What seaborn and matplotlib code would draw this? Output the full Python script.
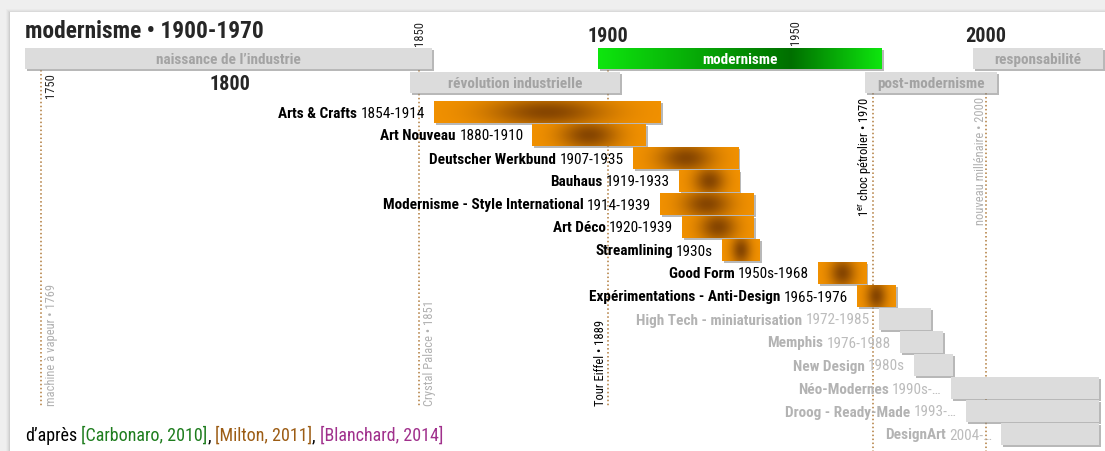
import numpy as np
import matplotlib
matplotlib.use("Agg")
import matplotlib.pyplot as plt
import matplotlib.patheffects as pe
from matplotlib.patches import Rectangle
from matplotlib import font_manager as fm
from matplotlib.colors import to_rgb
import seaborn as sns

# design movements, one row each (top to bottom)
names = ["Arts & Crafts", "Art Nouveau", "Deutscher Werkbund", "Bauhaus",
         "Modernisme - Style International", "Art Déco", "Streamlining", "Good Form",
         "Expérimentations - Anti-Design", "High Tech - miniaturisation", "Memphis",
         "New Design", "Néo-Modernes", "Droog - Ready-Made", "DesignArt"]
periods = ["1854-1914", "1880-1910", "1907-1935", "1919-1933", "1914-1939", "1920-1939",
           "1930s", "1950s-1968", "1965-1976", "1972-1985", "1976-1988", "1980s",
           "1990s-…", "1993-…", "2004-…"]
starts = [1854, 1880, 1906.5, 1918.8, 1913.8, 1919.6, 1930.2, 1955.6, 1965.9,
          1971.7, 1977.2, 1981.0, 1990.7, 1994.7, 2004.0]
ends = [1914.0, 1910.0, 1934.4, 1934.7, 1938.6, 1938.6, 1940.2, 1968.3, 1976.2,
        1985.4, 1988.6, 1991.3, 2030.0, 2030.0, 2030.0]
is_modern = [True] * 9 + [False] * 6

# periods in the header
band_labels = ["naissance de l’industrie", "révolution industrielle", "modernisme",
               "post-modernisme", "responsabilité"]
band_starts = [1745.8, 1847.6, 1897.4, 1968.0, 1996.6]
band_ends = [1853.4, 1903.2, 1972.5, 2002.9, 2031.0]
band_level = [0, 1, 0, 1, 0]

# events (dotted lines)
event_labels = ["machine à vapeur • 1769", "Crystal Palace • 1851", "Tour Eiffel • 1889",
                r"1$^{\mathrm{er}}$ choc pétrolier • 1970", "nouveau millénaire • 2000"]
event_x = [1750, 1850, 1900, 1970, 2000]

small_years = [1750, 1850, 1950]
big_years = [1800, 1900, 2000]

# ---------------------------------------------------------------- style
sns.set_style("white")
avail = {f.name for f in fm.fontManager.ttflist}
FONT = next((n for n in ["Liberation Sans Narrow", "Roboto Condensed", "Open Sans Condensed"]
             if n in avail), "Liberation Sans")
plt.rcParams["font.family"] = [FONT, "DejaVu Sans"]
plt.rcParams["mathtext.fontset"] = "custom"
plt.rcParams["mathtext.rm"] = FONT

W, H = 1105, 451
fig = plt.figure(figsize=(W / 100, H / 100), dpi=100, facecolor="#efefef")
ax = fig.add_axes([0, 0, 1, 1])
ax.patch.set_visible(False)
ax.set_axis_off()

# white card with soft shadow
for i, a in enumerate([0.05, 0.08, 0.12, 0.18]):
    fig.add_artist(Rectangle(((10 - 4 + i) / W, 0), 1, 1 - (12 - 3 + i) / H,
                             transform=fig.transFigure, color="#9a9a9a", alpha=a, lw=0, zorder=-3))
fig.add_artist(Rectangle((10 / W, 0), 1, 1 - 12 / H, transform=fig.transFigure,
                         color="white", lw=0, zorder=-2))

PX = 3.78          # pixels per year
X0 = 1750 - 41 / PX
ax.set_xlim(X0, X0 + W / PX)
ROW0, ROWH = 112, 23.0


def py(px):
    return (px - ROW0) / ROWH


ax.set_ylim(py(H), py(0))

shadow = [pe.withSimplePatchShadow(offset=(1.5, -1.5), shadow_rgbFace="#8a8a8a", alpha=0.6),
          pe.Normal()]


def gradient(x0, x1, yc, h, img):
    bar = ax.barh(yc, x1 - x0, left=x0, height=h, color=img[0, 0], lw=0,
                  path_effects=shadow, zorder=3)[0]
    im = ax.imshow(img, extent=[x0, x1, yc + h / 2, yc - h / 2], aspect="auto",
                   interpolation="bilinear", zorder=3.5)
    im.set_clip_path(bar)


orange, brown = np.array(to_rgb("#f39200")), np.array(to_rgb("#874600"))
U, V = np.meshgrid(np.linspace(0, 1, 200), np.linspace(-1, 1, 30))
wgt = np.exp(-((U - 0.5) / 0.26) ** 2 - (V / 1.4) ** 2)[..., None]
orange_img = orange * (1 - wgt) + brown * wgt

gbright, gdark = np.array(to_rgb("#0ee60e")), np.array(to_rgb("#006f00"))
u = np.linspace(0, 1, 300)
gw = np.where(u < 0.68, u / 0.68, (1 - u) / 0.32)
green_img = (gbright * (1 - gw[:, None]) + gdark * gw[:, None])[None, :, :].repeat(5, axis=0)

# ---------------------------------------------------------------- event lines
line_top = [70, 70, 70, 93, 93]
line_bot = [407, 407, 407, H, H]
for x, t, b in zip(event_x, line_top, line_bot):
    ax.plot([x, x], [py(t), py(b)], color="#b07a3a", lw=1.1, ls=(0, (1, 1.6)), zorder=1)

ev_dx = [10, 11, -8, -8, -6]
ev_col = ["#b0b0b0", "#b0b0b0", "black", "black", "#b0b0b0"]
ev_y = [406, 406, 406, 97, 97]
ev_va = ["bottom", "bottom", "bottom", "top", "top"]
for lab, x, dx, c, y, va in zip(event_labels, event_x, ev_dx, ev_col, ev_y, ev_va):
    ax.annotate(lab, (x, py(y)), xytext=(dx, 0), textcoords="offset pixels", rotation=90,
                ha="center", va=va, color=c, fontsize=9, zorder=2)

# ---------------------------------------------------------------- header bands
band_y = [58.5, 82.5]
for lab, s, e, lv in zip(band_labels, band_starts, band_ends, band_level):
    yc = py(band_y[lv])
    if lab == "modernisme":
        gradient(s, e, yc, 21 / ROWH, green_img)
        col = "white"
    else:
        ax.barh(yc, e - s, left=s, height=21 / ROWH, color="#dcdcdc", lw=0,
                path_effects=shadow, zorder=3)
        col = "#a3a3a3"
    ax.text((s + e) / 2, yc, lab, ha="center", va="center_baseline", color=col,
            fontsize=11, fontweight="bold", zorder=5)

# year labels
small_pos = [(51, 86), (420, 33), (796, 33)]
for yr, (xp, yp) in zip(small_years, small_pos):
    ax.text(X0 + xp / PX, py(yp), str(yr), rotation=90, ha="center", va="center",
            fontsize=9, zorder=5)
big_pos = [84, 37, 37]
for yr, yp in zip(big_years, big_pos):
    ax.text(yr, py(yp), str(yr), ha="center", va="center", fontsize=14.5,
            fontweight="bold", zorder=5)

# ---------------------------------------------------------------- movements
rows = np.arange(len(names))
for r, s, e, m in zip(rows, starts, ends, is_modern):
    if m:
        gradient(s, e, r, 0.95, orange_img)
    else:
        ax.barh(r, e - s, left=s, height=0.95, color="#dcdcdc", lw=0,
                path_effects=shadow, zorder=3)

rend = fig.canvas.get_renderer()
for r, s, nm, per, m in zip(rows, starts, names, periods, is_modern):
    c1, c2 = ("black", "black") if m else ("#b3b3b3", "#bcbcbc")
    t = ax.annotate(per, (s, r), xytext=(-9, 0), textcoords="offset pixels", ha="right",
                    va="center_baseline", color=c2, fontsize=11, zorder=4)
    w = t.get_window_extent(renderer=rend).width
    ax.annotate(nm, (s, r), xytext=(-9 - w - 3.5, 0), textcoords="offset pixels", ha="right",
                va="center_baseline", color=c1, fontsize=11, fontweight="bold", zorder=4)

# ---------------------------------------------------------------- title & sources
fig.text(25 / W, 1 - 38 / H, "modernisme • 1900-1970", fontsize=16.8, fontweight="bold",
         va="baseline")

parts = [("d’après", "black"), ("[Carbonaro, 2010]", "#1e7d1e"), (",", "black"),
         ("[Milton, 2011]", "#9c5c14"), (",", "black"), ("[Blanchard, 2014]", "#a0308c")]
space = 4
x = 25
for i, (txt, c) in enumerate(parts):
    t = fig.text(x / W, 1 - 441 / H, txt, color=c, fontsize=13, va="baseline")
    x += t.get_window_extent(renderer=rend).width + (0 if i + 1 < len(parts) and parts[i + 1][0] == "," else space)

fig.savefig("out.png", dpi=100, facecolor=fig.get_facecolor())
